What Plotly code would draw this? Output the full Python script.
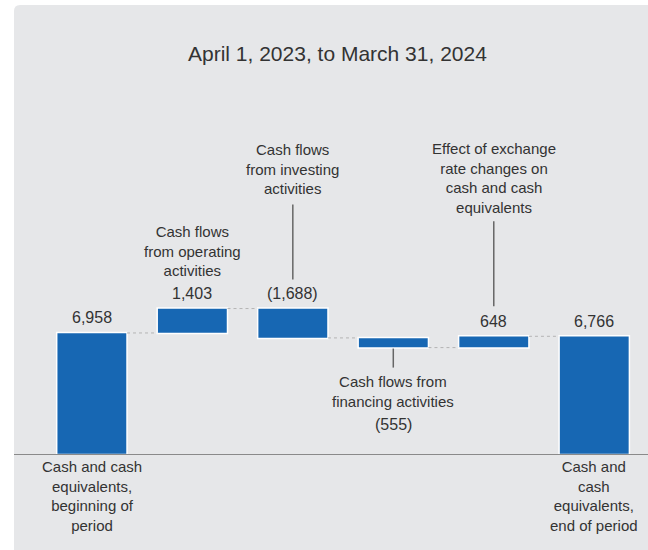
import plotly.graph_objects as go

# ---- data ----
categories = [
    "Cash and cash<br>equivalents,<br>beginning of<br>period",
    "Cash flows<br>from operating<br>activities",
    "Cash flows<br>from investing<br>activities",
    "Cash flows from<br>financing activities",
    "Effect of exchange<br>rate changes on<br>cash and cash<br>equivalents",
    "Cash and<br>cash<br>equivalents,<br>end of period",
]
values = [6958, 1403, -1688, -555, 648, 6766]
measures = ["absolute", "relative", "relative", "relative", "relative", "total"]
title_text = "April 1, 2023, to March 31, 2024"

# ---- style ----
FONT = "Liberation Sans, Arial, Helvetica, sans-serif"
BLUE = "#1767b3"
TXT = "#333333"
PANEL = "#e6e7e9"

def fmt(v):
    s = f"{abs(v):,}"
    return f"({s})" if v < 0 else s

# bar extents from the data
starts, ends = [], []
run = 0
for v, m in zip(values, measures):
    if m == "absolute":
        s, e = 0, v
    elif m == "total":
        s, e = 0, run
    else:
        s, e = run, run + v
    run = e
    starts.append(s)
    ends.append(e)
tops = [max(s, e) for s, e in zip(starts, ends)]
bottoms = [min(s, e) for s, e in zip(starts, ends)]

fig = go.Figure(go.Waterfall(
    x=categories,
    y=values,
    measure=measures,
    increasing=dict(marker=dict(color=BLUE, line=dict(color="white", width=1.5))),
    decreasing=dict(marker=dict(color=BLUE, line=dict(color="white", width=1.5))),
    totals=dict(marker=dict(color=BLUE, line=dict(color="white", width=1.5))),
    connector=dict(line=dict(color="#b4b4b4", width=1, dash="dot")),
    showlegend=False,
    hoverinfo="skip",
))

annotations = []
shapes = []

# background panel with rounded top-left corner (paper coords)
def px(x):
    return (x - 14) / 634
def py(y):
    return (454 - y) / 394

shapes.append(dict(
    type="path", xref="paper", yref="paper", layer="below",
    path=(f"M {px(14)},{py(560)} L {px(14)},{py(11)} "
          f"Q {px(14)},{py(5)} {px(20)},{py(5)} "
          f"L {px(700)},{py(5)} L {px(700)},{py(560)} Z"),
    fillcolor=PANEL, line=dict(width=0),
))

# title
annotations.append(dict(
    text=title_text, xref="paper", yref="paper", x=px(337), y=py(53),
    xanchor="center", yanchor="middle", showarrow=False,
    font=dict(family=FONT, size=21, color=TXT),
))

# value labels
for i, v in enumerate(values):
    if i == 3:
        annotations.append(dict(
            text=fmt(v), x=categories[i], y=bottoms[i], yshift=-77,
            xanchor="center", yanchor="middle", showarrow=False,
            font=dict(family=FONT, size=16, color=TXT),
        ))
    else:
        annotations.append(dict(
            text=fmt(v), x=categories[i], y=tops[i], yshift=15,
            xanchor="center", yanchor="middle", showarrow=False,
            font=dict(family=FONT, size=16, color=TXT),
        ))

# category labels
cat_pos = {
    0: ("zero", -42),
    1: ("top", 58),
    2: ("top", 140),
    3: ("bottom", -44),
    4: ("top", 158),
    5: ("zero", -42),
}
for i, c in enumerate(categories):
    ref, shift = cat_pos[i]
    yv = 0 if ref == "zero" else (tops[i] if ref == "top" else bottoms[i])
    annotations.append(dict(
        text=c, x=c, y=yv, yshift=shift,
        xanchor="center", yanchor="middle", showarrow=False,
        font=dict(family=FONT, size=15, color=TXT),
    ))

# leader lines
leaders = {2: ("top", 29, 104), 3: ("bottom", -1, -20), 4: ("top", 30, 115)}
for i, (ref, a, b) in leaders.items():
    yv = tops[i] if ref == "top" else bottoms[i]
    shapes.append(dict(
        type="line", xref="x", yref="y", ysizemode="pixel", yanchor=yv,
        x0=categories[i], x1=categories[i], y0=a, y1=b,
        line=dict(color="#666666", width=1.5),
    ))

fig.update_layout(
    width=648, height=550,
    margin=dict(l=14, r=0, t=60, b=96),
    paper_bgcolor="white",
    plot_bgcolor="rgba(0,0,0,0)",
    waterfallgap=0.3,
    xaxis=dict(range=[-0.775, 5.535], showticklabels=False, showgrid=False,
               zeroline=False, showline=True, linecolor="#8a8a8a", linewidth=1,
               ticks="", fixedrange=True),
    yaxis=dict(range=[0, 22650], visible=False, showgrid=False, zeroline=False,
               fixedrange=True),
    annotations=annotations,
    shapes=shapes,
    font=dict(family=FONT, color=TXT),
)

fig.write_html("out.html")
